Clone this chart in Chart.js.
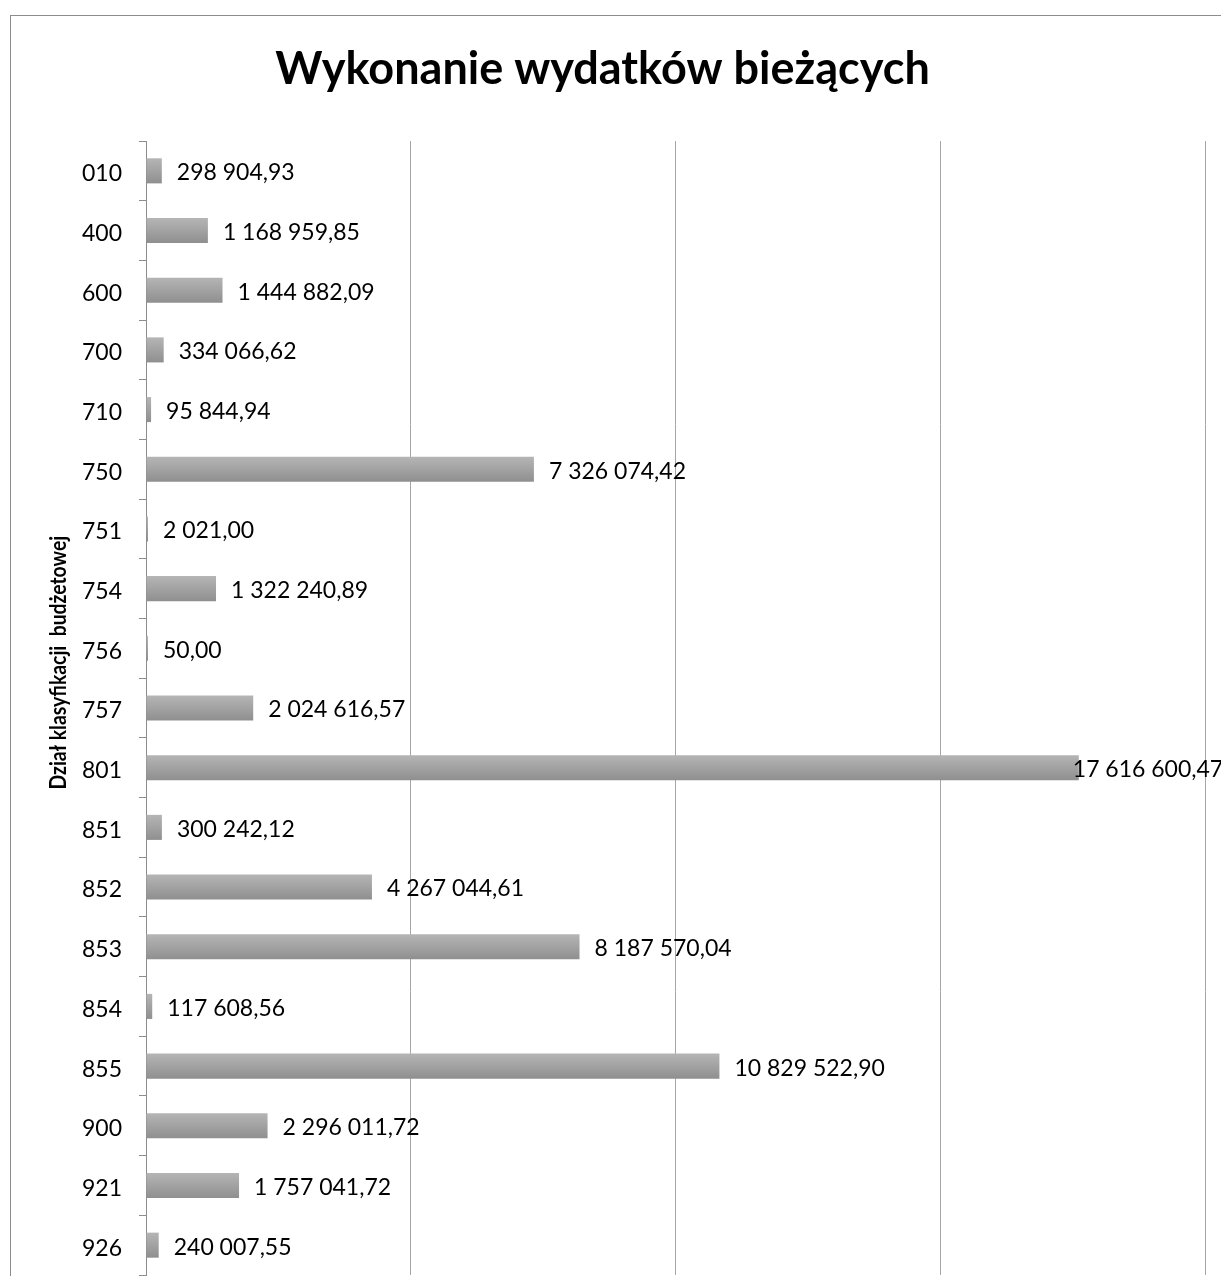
<!DOCTYPE html>
<html><head><meta charset="utf-8">
<script src="https://cdn.jsdelivr.net/npm/chart.js@4/dist/chart.umd.min.js"></script>
<style>html,body{margin:0;padding:0;background:#fff;overflow:hidden}#wrap{width:1221px;height:1276px;position:relative}</style>
</head><body><div id="wrap"><canvas id="c"></canvas></div>
<script>
const categories = ['010','400','600','700','710','750','751','754','756','757','801','851','852','853','854','855','900','921','926'];
const values = [298904.93,1168959.85,1444882.09,334066.62,95844.94,7326074.42,2021.00,1322240.89,50.00,2024616.57,17616600.47,300242.12,4267044.61,8187570.04,117608.56,10829522.90,2296011.72,1757041.72,240007.55];
const chartTitle = 'Wykonanie wydatków bieżących';
const yAxisTitle = 'Dział klasyfikacji  budżetowej';
const xMax = 20000000, xStep = 5000000;

function fmt(v){
  const [i,d] = v.toFixed(2).split('.');
  return i.replace(/\B(?=(\d{3})+(?!\d))/g,' ') + ',' + d;
}
const FONT = 'Lato, "Open Sans", sans-serif';

const bgPlugin = {
  id:'bg',
  beforeDraw(chart){
    const c=chart.ctx; c.save(); c.fillStyle='#fff'; c.fillRect(0,0,chart.width,chart.height);
    c.strokeStyle='#8c8c8c'; c.lineWidth=1; c.strokeRect(10.5,15.5,3000,3000); c.restore();
  },
  afterDraw(chart){
    const c=chart.ctx, a=chart.chartArea; c.save();
    c.translate(59, a.top + (a.bottom-a.top)*0.46);
    c.rotate(-Math.PI/2);
    c.scale(0.88,1);
    c.font='bold 22px '+FONT; c.fillStyle='#000'; c.textAlign='center'; c.textBaseline='middle';
    c.fillText(yAxisTitle,0,0); c.restore();
  }
};
const labelPlugin = {
  id:'vals',
  afterDatasetsDraw(chart){
    const c=chart.ctx; c.save(); c.font='23px '+FONT; c.fillStyle='#000'; c.textBaseline='middle';
    chart.getDatasetMeta(0).data.forEach((el,i)=>{
      const t=fmt(values[i]); const w=c.measureText(t).width;
      let x=el.x+15; if(x+w>chart.width) x=el.x-6;
      c.fillText(t,x,el.y+2);
    });
    c.restore();
  }
};

new Chart(document.getElementById('c'),{
  type:'bar',
  data:{labels:categories,datasets:[{data:values,minBarLength:2,
    categoryPercentage:1,barPercentage:0.42,
    backgroundColor(ctx){
      const ch=ctx.chart, ys=ch.scales.y;
      if(!ys||!ch.chartArea||ctx.dataIndex===undefined) return '#a5a5a5';
      const cy=ys.getPixelForValue(ctx.dataIndex);
      const h=Math.abs(ys.getPixelForValue(1)-ys.getPixelForValue(0))*0.42/2;
      if(!isFinite(cy)||!isFinite(h)||h<=0) return '#a5a5a5';
      const g=ch.ctx.createLinearGradient(0,cy-h,0,cy+h);
      g.addColorStop(0,'#b5b5b5'); g.addColorStop(1,'#8f8f8f'); return g;
    }}]},
  options:{
    indexAxis:'y', responsive:true, maintainAspectRatio:false, animation:false,
    layout:{padding:{left:0,right:16,top:0,bottom:1}},
    plugins:{legend:{display:false},tooltip:{enabled:false},
      title:{display:true,text:chartTitle,color:'#000',font:{family:FONT,size:45,weight:'bold',lineHeight:1.2},padding:{top:42,bottom:45}}},
    scales:{
      x:{min:0,max:xMax,ticks:{display:false,stepSize:xStep},
        grid:{color:'#a6a6a6',drawTicks:false},border:{display:false},
        afterFit(s){s.height=0;}},
      y:{offset:true,
        grid:{offset:true,drawOnChartArea:false,tickLength:7,color:'#8c8c8c'},
        border:{display:true,color:'#8c8c8c'},
        ticks:{color:'#000',padding:17,labelOffset:3,font:{family:FONT,size:23}},
        afterFit(s){s.width=146; s.paddingTop=0; s.paddingBottom=0;}}
    }
  },
  plugins:[bgPlugin,labelPlugin]
});
</script></body></html>
